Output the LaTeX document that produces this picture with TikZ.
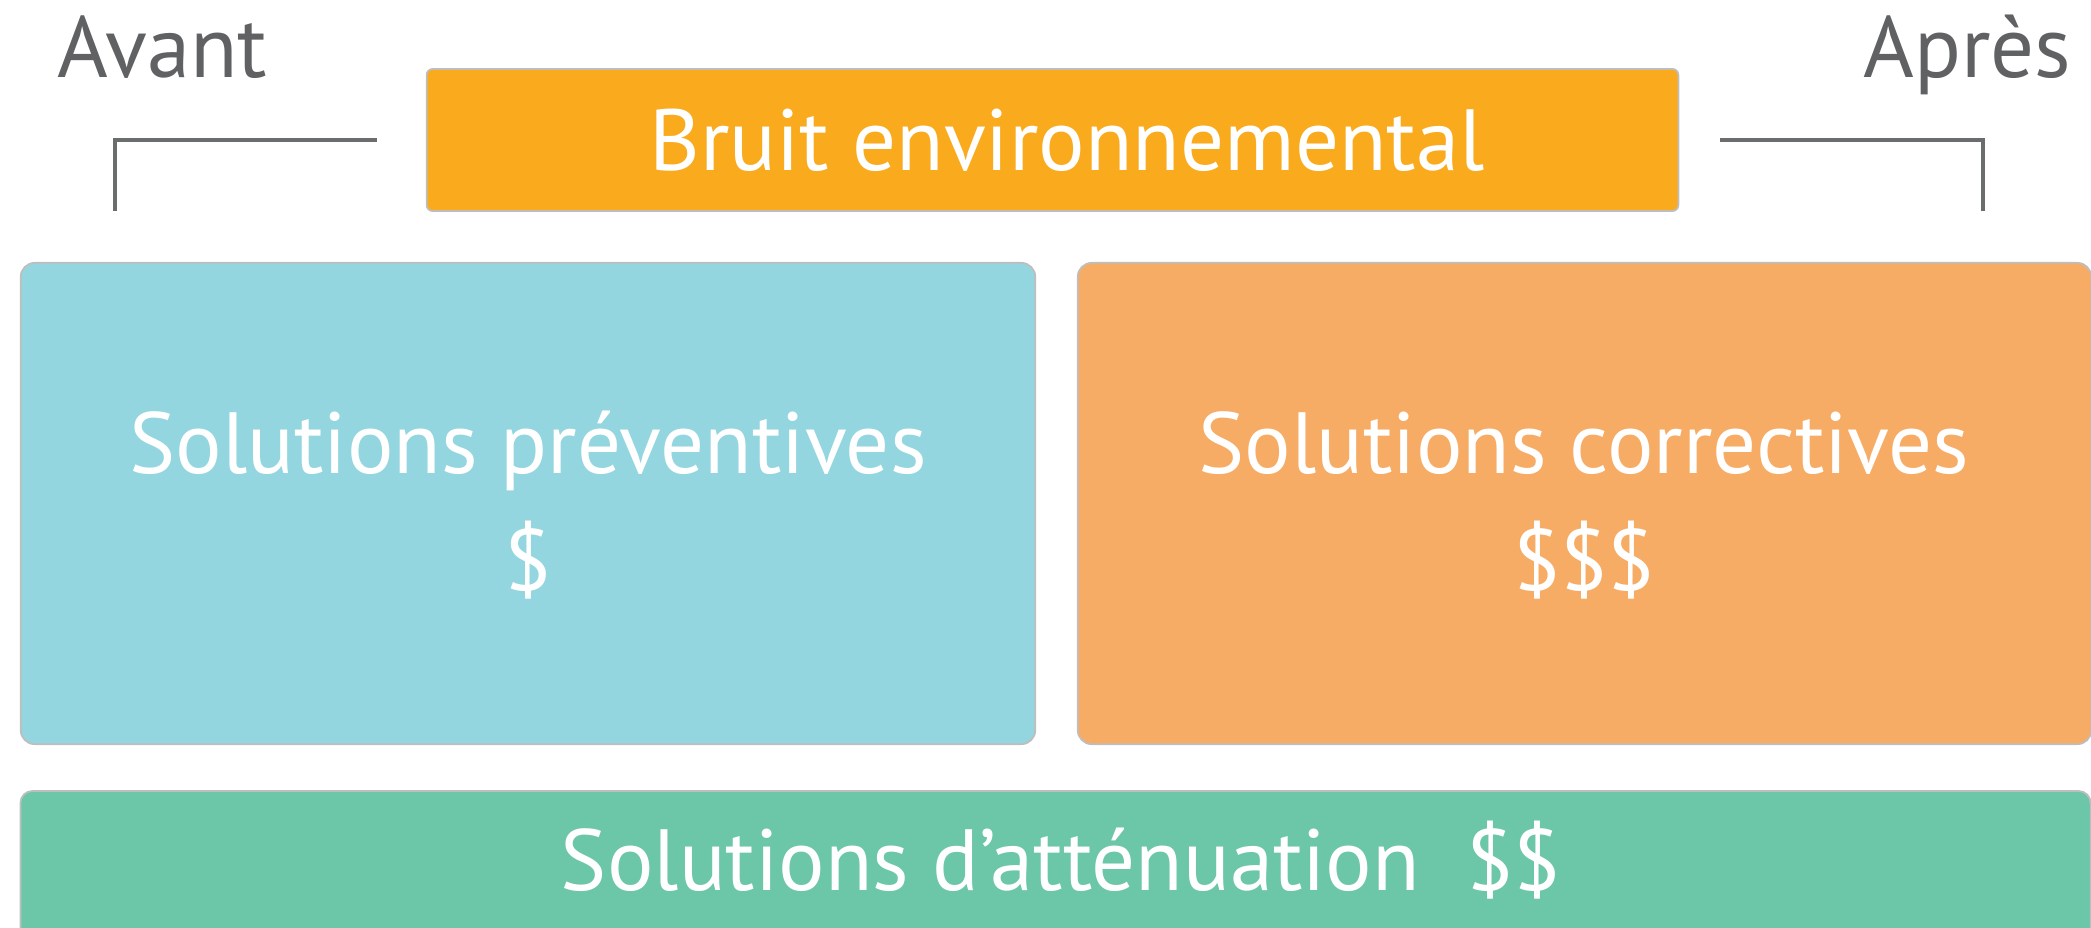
\documentclass[tikz,border=0pt]{standalone}
\usepackage{fontspec}
\setmainfont{PT Sans}
\definecolor{barOrange}{RGB}{249,171,29}
\definecolor{boxBlue}{RGB}{148,214,224}
\definecolor{boxOrange}{RGB}{247,172,101}
\definecolor{barGreen}{RGB}{108,198,168}
\definecolor{txtGray}{RGB}{95,97,99}
\definecolor{lineGray}{RGB}{107,108,110}
\definecolor{edgeGray}{RGB}{190,190,190}
\tikzset{
  panel/.style={draw=edgeGray, line width=0.5pt, rounded corners=0.14cm, inner sep=0pt, outer sep=0pt},
  wtext/.style={text=white, inner sep=0pt, anchor=base, font=\fontsize{24.7}{33}\selectfont},
  gtext/.style={text=txtGray, inner sep=0pt, font=\fontsize{24.7}{33}\selectfont},
  bracket/.style={draw=lineGray, line width=1.15pt}
}
\begin{document}
\begin{tikzpicture}[x=0.01cm,y=-0.01cm]
\useasboundingbox (0,0) rectangle (2091,927);
\clip (0,0) rectangle (2091,927);
% top bar
\node[panel, rounded corners=0.06cm, fill=barOrange, minimum width=12.51cm, minimum height=1.42cm] (bruit) at (1052.5,140) {};
\node[wtext] (bruitT) at (1067,170) {Bruit environnemental};
% labels
\node[gtext, anchor=base west] (avant) at (57,77) {Avant};
\node[gtext, anchor=base east] (apres) at (2072,77) {Après};
% brackets
\coordinate (lb1) at (377,140);
\coordinate (lb2) at (115,140);
\coordinate (lb3) at (115,211);
\coordinate (rb1) at (1720,140);
\coordinate (rb2) at (1983,140);
\coordinate (rb3) at (1983,211);
\draw[bracket] (lb1) -- (lb2) -- (lb3);
\draw[bracket] (rb1) -- (rb2) -- (rb3);
% middle boxes
\node[panel, fill=boxBlue, minimum width=10.14cm, minimum height=4.81cm] (prev) at (528,503.5) {};
\node[wtext] (prevT) at (528,473) {Solutions préventives};
\node[wtext] (prevC) at (528,590) {\$};
\node[panel, fill=boxOrange, minimum width=10.13cm, minimum height=4.81cm] (corr) at (1584.5,503.5) {};
\node[wtext] (corrT) at (1584,473) {Solutions correctives};
\node[wtext] (corrC) at (1584,590) {\$\$\$};
% bottom bar
\node[panel, rounded corners=0.12cm, fill=barGreen, minimum width=20.69cm, minimum height=1.49cm] (att) at (1055.5,865.5) {};
\node[wtext] (attT) at (1061,890) {Solutions d’atténuation\ \ \$\$};
\end{tikzpicture}
\end{document}
